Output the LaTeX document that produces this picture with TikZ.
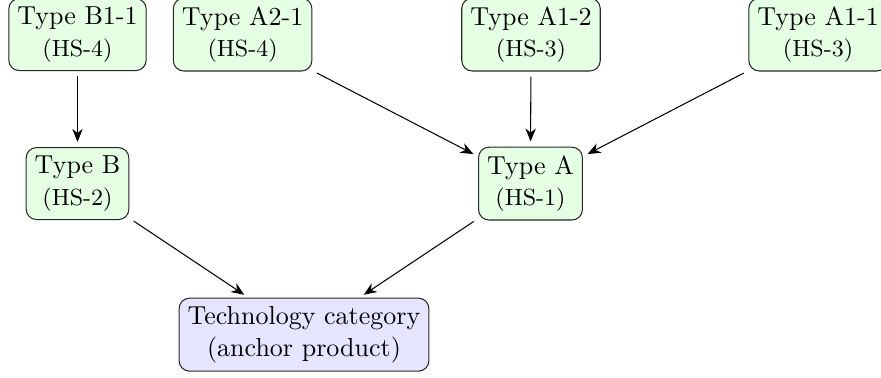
\documentclass[tikz,border=0pt]{standalone}
\usetikzlibrary{arrows.meta}
\begin{document}
\begin{tikzpicture}[x=1pt,y=1pt,
  hsbox/.style={draw=black!85, rounded corners=4pt, fill=green!10, align=center, inner sep=3.3pt},
  catbox/.style={draw=black!85, rounded corners=4pt, fill=blue!10, align=center, inner sep=3.3pt},
  link/.style={-{Stealth[length=5pt,width=4pt]}, shorten >=2pt, shorten <=2pt}]
\useasboundingbox (0,0) rectangle (338.8,145);
\node[hsbox] (b11) at (29.8,131.7) {Type B1-1\\{\small (HS-4)}};
\node[hsbox] (a21) at (93.3,131.7) {Type A2-1\\{\small (HS-4)}};
\node[hsbox] (a12) at (204.2,131.7) {Type A1-2\\{\small (HS-3)}};
\node[hsbox] (a11) at (314.6,131.7) {Type A1-1\\{\small (HS-3)}};
\node[hsbox] (b) at (29.8,74.4) {Type B\\{\small (HS-2)}};
\node[hsbox] (a) at (204.0,74.4) {Type A\\{\small (HS-1)}};
\node[catbox] (tech) at (116.9,16.3) {Technology category\\(anchor product)};
\draw[link] (b11) -- (b);
\draw[link] (a21) -- (a);
\draw[link] (a12) -- (a);
\draw[link] (a11) -- (a);
\draw[link] (b) -- (tech);
\draw[link] (a) -- (tech);
\end{tikzpicture}
\end{document}
